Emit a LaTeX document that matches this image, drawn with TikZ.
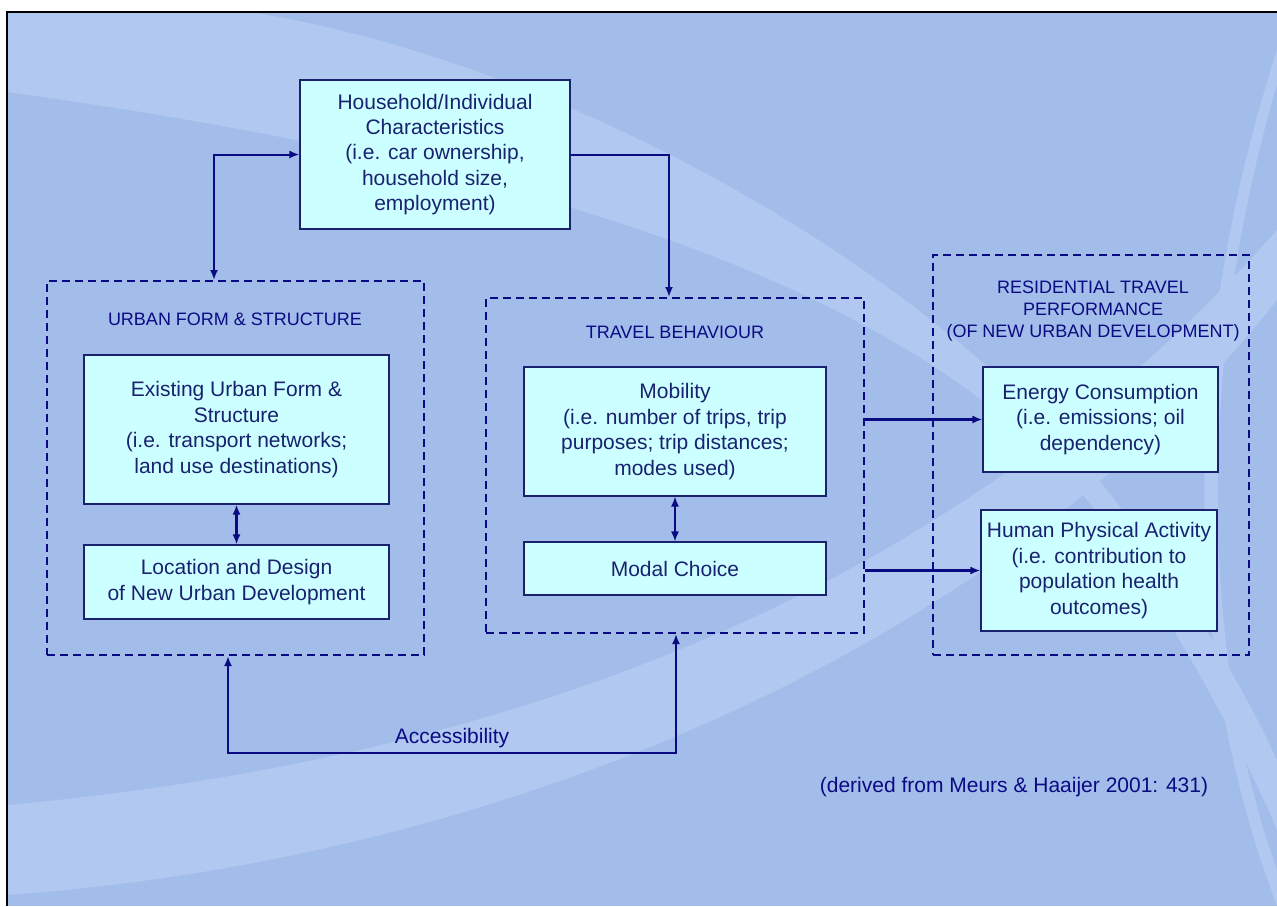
\documentclass[tikz,border=0pt]{standalone}
\usepackage{fontspec}
\setmainfont{Liberation Sans}
\usetikzlibrary{arrows.meta}
\definecolor{slidebg}{HTML}{A3BDEA}
\definecolor{swoosh}{HTML}{B1C8F0}
\definecolor{boxfill}{HTML}{CCFFFF}
\definecolor{navy}{HTML}{0A0A82}
\definecolor{inktext}{HTML}{1A2270}
\tikzset{
	infobox/.style={draw=inktext, fill=boxfill, line width=0.6pt, text=inktext, align=center, inner sep=0pt, font=\fontsize{10.5}{12.7}\selectfont},
	groupbox/.style={draw=navy, line width=1pt, dash pattern=on 4pt off 2.5pt, inner sep=0pt},
	grouptitle/.style={text=navy, align=center, font=\fontsize{9}{11}\selectfont},
	link/.style={draw=navy, line width=1pt},
	notetext/.style={text=navy, font=\fontsize{10.5}{12.7}\selectfont}
}
\begin{document}
\begin{tikzpicture}[x=0.5pt, y=-0.5pt, >={Latex[length=5pt,width=4pt]}]
	\useasboundingbox (0,0) rectangle (1277,906);
	\fill[white] (0,0) rectangle (1277,906);
	\fill[slidebg] (7,12) rectangle (1277,906);
	\begin{scope}
		\clip (7,12) rectangle (1277,906);
		\fill[swoosh] (7,12) -- (250,12) .. controls (550,60) and (900,250) .. (1091,470)
			.. controls (1180,580) and (1240,680) .. (1277,760)
			-- (1277,830) .. controls (1230,720) and (1160,600) .. (1091,505)
			.. controls (950,330) and (650,180) .. (7,92) -- cycle;
		\fill[swoosh] (7,805) .. controls (500,760) and (950,600) .. (1277,230)
			-- (1277,300) .. controls (1000,650) and (500,860) .. (7,895) -- cycle;
		\fill[swoosh] (1277,50) .. controls (1180,350) and (1180,650) .. (1277,906)
			-- (1277,870) .. controls (1198,650) and (1198,350) .. (1277,85) -- cycle;
	\end{scope}
	\draw[black, line width=1pt] (1277,12) -- (7,12) -- (7,906);

	\node[groupbox, minimum width=188.5pt, minimum height=187pt] (urban) at (235.5,468) {};
	\node[grouptitle] (urbantitle) at (235,319) {URBAN FORM \& STRUCTURE};
	\node[infobox, minimum width=152.5pt, minimum height=74.5pt] (existing) at (236.5,429.5) {Existing Urban Form \&\\Structure\\(i.e. transport networks;\\land use destinations)};
	\node[infobox, minimum width=152.5pt, minimum height=37pt] (location) at (236.5,582) {Location and Design\\of New Urban Development};

	\node[groupbox, minimum width=189pt, minimum height=167.5pt] (travel) at (675,465.5) {};
	\node[grouptitle] (traveltitle) at (675,332) {TRAVEL BEHAVIOUR};
	\node[infobox, minimum width=151pt, minimum height=64.5pt] (mobility) at (675,431.5) {Mobility\\(i.e. number of trips, trip\\purposes; trip distances;\\modes used)};
	\node[infobox, minimum width=151pt, minimum height=26.5pt] (modal) at (675,568.5) {Modal Choice};

	\node[groupbox, minimum width=158pt, minimum height=200pt] (resid) at (1091,455) {};
	\node[grouptitle] (residtitle) at (1093,311) {RESIDENTIAL TRAVEL\\PERFORMANCE\\(OF NEW URBAN DEVELOPMENT)};
	\node[infobox, minimum width=117.5pt, minimum height=52.5pt] (energy) at (1100.5,419.5) {Energy Consumption\\(i.e. emissions; oil\\dependency)};
	\node[infobox, minimum width=118pt, minimum height=60.5pt] (human) at (1099,570.5) {Human Physical Activity\\(i.e. contribution to\\population health\\outcomes)};

	\node[infobox, minimum width=135pt, minimum height=74.5pt] (household) at (435,154.5) {Household/Individual\\Characteristics\\(i.e. car ownership,\\household size,\\employment)};

	\node[notetext] (source) at (1014,787) {(derived from Meurs \& Haaijer 2001: 431)};

	\draw[link, <->] (household.west) -| ([xshift=-10.75pt]urban.north);
	\draw[link, ->] (household.east) -| ([xshift=-3pt]travel.north);
	\draw[link, <->, line width=1.4pt] (existing) -- (location);
	\draw[link, <->, line width=0.7pt] (mobility) -- (modal);
	\draw[link, ->, line width=1.2pt] (travel.east |- energy.west) -- (energy.west);
	\draw[link, ->, line width=1.2pt] (travel.east |- human.west) -- (human.west);
	\draw[link, <->] ([xshift=-3.75pt]urban.south) -- ++(0,97) -| node[pos=0.25, above, inner sep=2pt, notetext] (access) {Accessibility} ([xshift=0.5pt]travel.south);
\end{tikzpicture}
\end{document}
